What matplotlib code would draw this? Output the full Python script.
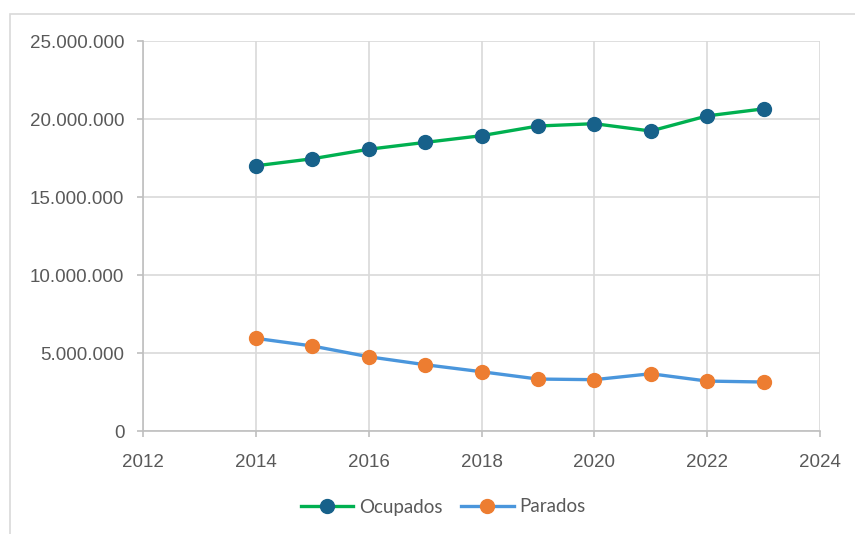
import matplotlib.pyplot as plt
from matplotlib.ticker import FuncFormatter, MultipleLocator
from matplotlib.patches import Rectangle

# --------------------------------------------------
# Data
# --------------------------------------------------
years = [2014, 2015, 2016, 2017, 2018, 2019, 2020, 2021, 2022, 2023]
ocupados = [17000000, 17450000, 18060000, 18500000, 18930000,
            19550000, 19700000, 19230000, 20200000, 20650000]
parados = [5940000, 5450000, 4760000, 4250000, 3800000,
           3330000, 3290000, 3670000, 3200000, 3140000]

GRID = "#d9d9d9"
TEXT = "#595959"

# --------------------------------------------------
# Plot
# --------------------------------------------------
fig = plt.figure(figsize=(8.55, 5.34), dpi=100)
ax = fig.add_axes([143 / 855, 1 - 431 / 534, (820 - 143) / 855, (431 - 41) / 534])

# outer chart border
fig.patches.append(Rectangle((10 / 855, -0.01), 0.99, 1 - 14 / 534 + 0.01,
                             transform=fig.transFigure, fill=False,
                             edgecolor=GRID, linewidth=1.2))

ax.plot(years, ocupados, color="#00b050", linewidth=2.4, marker="o",
        markersize=10, markerfacecolor="#17618a", markeredgecolor="#17618a",
        label="Ocupados", zorder=3)
ax.plot(years, parados, color="#4a96dc", linewidth=2.4, marker="o",
        markersize=10, markerfacecolor="#ed7d31", markeredgecolor="#ed7d31",
        label="Parados", zorder=3)

ax.set_xlim(2012, 2024)
ax.set_ylim(0, 25000000)
ax.xaxis.set_major_locator(MultipleLocator(2))
ax.yaxis.set_major_locator(MultipleLocator(5000000))
ax.yaxis.set_major_formatter(
    FuncFormatter(lambda v, p: f"{int(v):,}".replace(",", ".")))

ax.grid(True, color=GRID, linewidth=1.2)
ax.set_axisbelow(True)
for side in ["top", "right"]:
    ax.spines[side].set_visible(False)
for side in ["left", "bottom"]:
    ax.spines[side].set_color("#bfbfbf")
    ax.spines[side].set_linewidth(1.2)

ax.tick_params(axis="both", colors="#bfbfbf", length=4.5, width=1.2,
               labelcolor=TEXT, labelsize=13.5)
ax.tick_params(axis="y", pad=9)
ax.tick_params(axis="x", pad=12)
for lbl in ax.get_xticklabels() + ax.get_yticklabels():
    lbl.set_fontfamily("Liberation Sans")

leg = fig.legend(loc="center", bbox_to_anchor=(443 / 855, 1 - 507 / 534),
                 ncol=2, frameon=False, handlelength=2.8,
                 columnspacing=1.0, handletextpad=0.3,
                 prop={"family": "Lato", "size": 13.5})
for t in leg.get_texts():
    t.set_color(TEXT)

# --------------------------------------------------
# Save figure
# --------------------------------------------------
plt.savefig("out.png", dpi=100)
